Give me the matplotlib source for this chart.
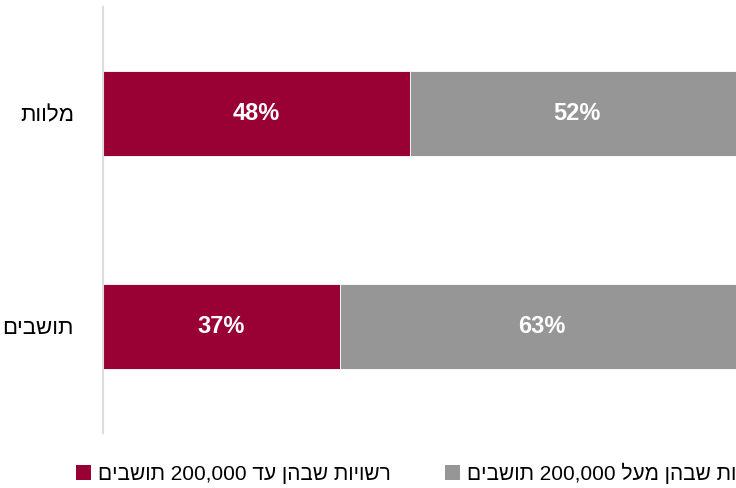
import re
import matplotlib
matplotlib.use('Agg')
import matplotlib.pyplot as plt
from matplotlib.patches import Patch

plt.rcParams['font.family'] = ['Liberation Sans', 'DejaVu Sans']

categories = ['תושבים', 'מלוות']
small_share = [37, 48]
large_share = [63, 52]
series_names = ['רשויות שבהן עד 200,000 תושבים', 'רשויות שבהן מעל 200,000 תושבים']
colors = ['#990033', '#969696']


def rtl(s):
    # matplotlib has no bidi support: flip the string, keep numbers left-to-right
    r = s[::-1]
    return re.sub(r'[0-9][0-9,.]*[0-9]|[0-9]', lambda m: m.group(0)[::-1], r)


fig = plt.figure(figsize=(7.36, 4.88), dpi=100)
ax = fig.add_axes([103 / 736, 1 - 433 / 488, 640 / 736, 426 / 488])

y = list(range(len(categories)))
ax.barh(y, small_share, height=0.4, color=colors[0], edgecolor='white', linewidth=0.6)
ax.barh(y, large_share, left=small_share, height=0.4, color=colors[1], edgecolor='white', linewidth=0.6)

for i in y:
    ax.text(small_share[i] / 2, i, f'{small_share[i]}%', ha='center', va='center',
            color='white', fontsize=17, fontweight='bold')
    ax.text(small_share[i] + large_share[i] / 2, i, f'{large_share[i]}%', ha='center', va='center',
            color='white', fontsize=17, fontweight='bold')

ax.set_xlim(0, 100)
ax.set_ylim(-0.5, 1.5)
ax.set_yticks(y)
ax.set_yticklabels([rtl(c) for c in categories], fontsize=16)
ax.tick_params(axis='y', length=0, pad=21)
ax.set_xticks([])
for side in ['top', 'right', 'bottom']:
    ax.spines[side].set_visible(False)
ax.spines['left'].set_color('#dddddd')
ax.spines['left'].set_linewidth(1.5)

handles = [Patch(facecolor=colors[0]), Patch(facecolor=colors[1])]
fig.legend(handles, [rtl(n) for n in series_names], loc='center left',
           bbox_to_anchor=(76 / 736, 1 - 473 / 488), ncol=2, frameon=False,
           fontsize=15, handlelength=0.72, handleheight=0.72, handletextpad=0.34,
           columnspacing=2.6, borderaxespad=0, borderpad=0)

fig.savefig('out.png', dpi=100)
